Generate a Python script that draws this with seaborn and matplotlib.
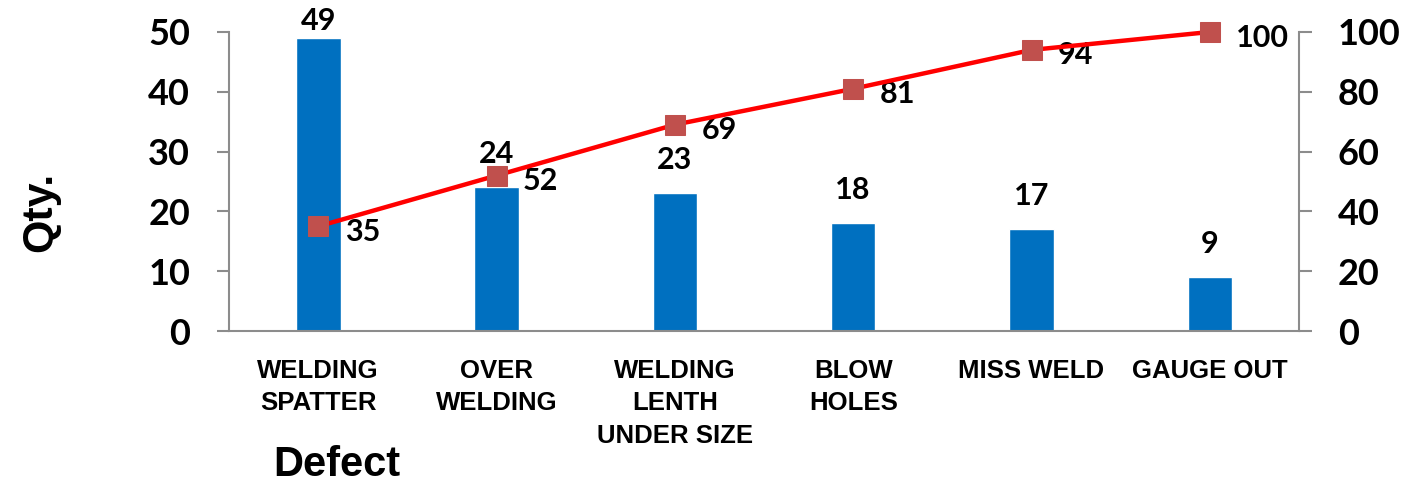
import matplotlib
matplotlib.use("Agg")
import matplotlib.pyplot as plt
import seaborn as sns
import pandas as pd

# Pareto data: defect counts and cumulative percentage
defects = ["WELDING\nSPATTER", "OVER\nWELDING", "WELDING\nLENTH\nUNDER SIZE",
           "BLOW\nHOLES", "MISS WELD", "GAUGE OUT"]
qty = [49, 24, 23, 18, 17, 9]
cum_pct = [35, 52, 69, 81, 94, 100]
left_ticks = [0, 10, 20, 30, 40, 50]
right_ticks = [0, 20, 40, 60, 80, 100]

sns.set_theme(style="white")
plt.rcParams["font.family"] = ["Liberation Sans", "DejaVu Sans"]
plt.rcParams["text.color"] = "black"
plt.rcParams["xtick.color"] = "black"
plt.rcParams["ytick.color"] = "black"

df = pd.DataFrame({"Defect": defects, "Qty": qty, "Cum": cum_pct})

BAR = "#0070C0"
LINE = "#FF0000"
MARK = "#C0504D"
AXC = "#8C8C8C"
NUMFONT = "Lato"
NUMWEIGHT = "bold"

fig = plt.figure(figsize=(14.2, 4.86), dpi=100)
ax = fig.add_axes([0.1613, 0.3189, 0.7535, 0.6153])

sns.barplot(data=df, x="Defect", y="Qty", color=BAR, width=0.25,
            saturation=1, ax=ax)
ax.set_xlim(-0.5, 5.5)
ax.set_ylim(0, 50)
ax.set_yticks(left_ticks)

for i, v in enumerate(qty):
    # keep the tallest bar's label inside the plot area
    off = 2 if v > 45 else 14
    ax.annotate(str(v), (i, v), xytext=(0, off), textcoords="offset points",
                ha="center", va="bottom", fontsize=22, fontweight=NUMWEIGHT,
                family=NUMFONT, color="black")

ax2 = ax.twinx()
sns.lineplot(data=df, x="Defect", y="Cum", color=LINE, linewidth=3.2,
             marker="s", markersize=14, markerfacecolor=MARK,
             markeredgecolor=MARK, ax=ax2, zorder=5, clip_on=False)
ax2.set_ylim(0, 100)
ax2.set_yticks(right_ticks)
ax2.set_xlim(-0.5, 5.5)

for i, v in enumerate(cum_pct):
    ax2.annotate(str(v), (i, v), xytext=(19, -4), textcoords="offset points",
                 ha="left", va="center", fontsize=22, fontweight=NUMWEIGHT,
                 family=NUMFONT, color="black")

for a in (ax, ax2):
    for s in a.spines.values():
        s.set_visible(False)
    a.set_ylabel("")
    a.set_xlabel("")
    a.grid(False)

ax.spines["left"].set_visible(True)
ax.spines["bottom"].set_visible(True)
ax2.spines["right"].set_visible(True)
for s in (ax.spines["left"], ax.spines["bottom"], ax2.spines["right"]):
    s.set_color(AXC)
    s.set_linewidth(1.5)

ax.tick_params(axis="y", which="major", left=True, length=9, width=1.5,
               color=AXC, pad=19, labelsize=26)
ax.tick_params(axis="x", bottom=False, pad=14, labelsize=18.5)
ax2.tick_params(axis="y", right=True, length=9, width=1.5, color=AXC,
                pad=19, labelsize=26)

for lab in ax.get_yticklabels() + ax2.get_yticklabels():
    lab.set_fontweight(NUMWEIGHT)
    lab.set_family(NUMFONT)
for lab in ax.get_xticklabels():
    lab.set_fontweight("bold")
    lab.set_linespacing(1.45)
    lab.set_verticalalignment("top")

fig.text(0.028, 0.564, "Qty.", rotation=90, ha="center", va="center",
         fontsize=31, fontweight="bold")
fig.text(0.237, 0.043, "Defect", ha="center", va="center",
         fontsize=30, fontweight="bold")

fig.savefig("out.png", dpi=100)
